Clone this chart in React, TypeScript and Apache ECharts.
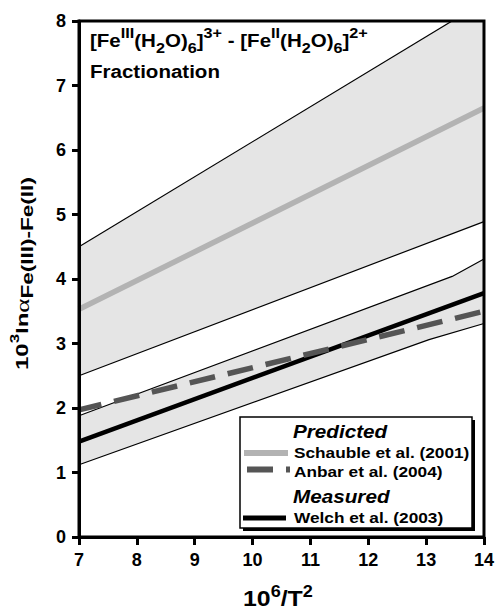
import React, { useEffect, useRef } from "react";
import * as echarts from "echarts";

const FONT = '"Liberation Sans", Arial, Helvetica, sans-serif';

// Axis extents (10^6/T^2 and 10^3 ln alpha)
const X_MIN = 7;
const X_MAX = 14;
const Y_MIN = 0;
const Y_MAX = 8;

// Central fractionation curves
const schauble2001: number[][] = [[7, 3.53], [14, 6.65]];
const anbar2004: number[][] = [[7, 1.97], [14, 3.5]];
const welch2003: number[][] = [[7, 1.48], [14, 3.78]];

// Uncertainty envelopes
const predictedUpper: number[][] = [[7, 4.5], [14, 8.3]];
const predictedLower: number[][] = [[7, 2.5], [14, 4.89]];
const measuredUpper: number[][] = [[7, 1.88], [13.45, 4.04], [14, 4.31]];
const measuredLower: number[][] = [[7, 1.12], [13.05, 3.06], [14, 3.31]];

const BAND_FILL = "#e5e5e5";
const SCHAUBLE_COLOR = "#b3b3b3";
const ANBAR_COLOR = "#555555";
const WELCH_COLOR = "#000000";
const ANBAR_DASH = [26, 13];

const bandSeries = (name: string, upper: number[][], lower: number[][]) => ({
  type: "custom",
  name,
  clip: true,
  silent: true,
  z: 1,
  data: [upper[0]],
  renderItem: (_params: any, api: any) => ({
    type: "polygon",
    shape: {
      points: upper.concat(lower.slice().reverse()).map((p) => api.coord(p)),
    },
    style: { fill: BAND_FILL },
  }),
});

const edgeSeries = (name: string, data: number[][]) => ({
  type: "line",
  name,
  data,
  symbol: "none",
  silent: true,
  z: 3,
  lineStyle: { color: "#000", width: 1.2 },
});

const curveSeries = (
  name: string,
  data: number[][],
  color: string,
  width: number,
  z: number,
  dash?: number[]
) => ({
  type: "line",
  name,
  data,
  symbol: "none",
  silent: true,
  z,
  lineStyle: {
    color,
    width,
    cap: "butt",
    type: dash ? dash : "solid",
    dashOffset: dash ? 3 : 0,
  },
});

const txt = (
  x: number,
  y: number,
  text: string,
  size: number,
  scaleX: number,
  extra: Record<string, any> = {},
  rotation = 0
) => ({
  type: "text",
  x,
  y,
  rotation,
  scaleX,
  z: 30,
  silent: true,
  style: {
    text,
    fill: "#000",
    fontSize: size,
    fontWeight: "bold",
    fontFamily: FONT,
    textAlign: "left",
    textVerticalAlign: "middle",
    align: "left",
    verticalAlign: "middle",
    ...extra,
  },
});

const richStyle = (size: number, lineHeight: number, va: string, extra: Record<string, any> = {}) => ({
  fontSize: size,
  fontWeight: "bold",
  fontFamily: FONT,
  fill: "#000",
  lineHeight,
  verticalAlign: va,
  ...extra,
});

export default function App() {
  const ref = useRef<HTMLDivElement>(null);

  useEffect(() => {
    if (!ref.current) return;
    const chart = echarts.init(ref.current, undefined, { renderer: "svg" });

    const axisCommon = {
      type: "value",
      z: 10,
      splitLine: { show: false },
      axisLine: { show: true, onZero: false, lineStyle: { color: "#000", width: 3 } },
    };

    const option: any = {
      animation: false,
      grid: {
        left: 79,
        right: 12,
        top: 21,
        bottom: 73,
        show: true,
        borderColor: "#000",
        borderWidth: 3,
        backgroundColor: "transparent",
        z: 10,
      },
      xAxis: {
        ...axisCommon,
        min: X_MIN,
        max: X_MAX,
        interval: 1,
        axisTick: { show: true, length: 8, lineStyle: { color: "#000", width: 3 } },
        axisLabel: { color: "#000", fontSize: 18, fontWeight: "bold", fontFamily: FONT, margin: 14 },
      },
      yAxis: {
        ...axisCommon,
        min: Y_MIN,
        max: Y_MAX,
        interval: 1,
        axisTick: { show: true, length: 7, lineStyle: { color: "#000", width: 3 } },
        axisLabel: { color: "#000", fontSize: 18, fontWeight: "bold", fontFamily: FONT, margin: 13 },
      },
      series: [
        bandSeries("Predicted range", predictedUpper, predictedLower),
        bandSeries("Measured range", measuredUpper, measuredLower),
        edgeSeries("Predicted upper", predictedUpper),
        edgeSeries("Predicted lower", predictedLower),
        edgeSeries("Measured upper", measuredUpper),
        edgeSeries("Measured lower", measuredLower),
        curveSeries("Schauble et al. (2001)", schauble2001, SCHAUBLE_COLOR, 5.5, 4),
        curveSeries("Welch et al. (2003)", welch2003, WELCH_COLOR, 4.5, 5),
        curveSeries("Anbar et al. (2004)", anbar2004, ANBAR_COLOR, 5.5, 6, ANBAR_DASH),
      ],
      graphic: {
        elements: [
          // in-plot title
          txt(
            90,
            40,
            "[Fe{sup|III}(H{sub|2}O){sub|6}]{sup|3+} - [Fe{sup|II}(H{sub|2}O){sub|6}]{sup|2+}",
            19,
            1.08,
            {
              lineHeight: 30,
              rich: {
                sup: richStyle(15, 21.6, "top"),
                sub: richStyle(15, 13.4, "bottom"),
              },
            }
          ),
          txt(90, 71.5, "Fractionation", 19, 1.08),
          // x-axis title
          txt(243, 598.5, "10{sup|6}/T{sup|2}", 22, 1.13, {
            lineHeight: 30,
            rich: { sup: richStyle(16, 10, "top") },
          }),
          // y-axis title (reads bottom to top)
          txt(
            22,
            370,
            "10{sup|3}ln{al|α}{sub|Fe(III)-Fe(II)}",
            17,
            1.41,
            {
              lineHeight: 26,
              rich: {
                sup: richStyle(12, 19, "top"),
                sub: richStyle(16, 8.4, "bottom"),
                al: richStyle(19, 26, "middle", {
                  fontWeight: "normal",
                  fontFamily: '"Liberation Serif", "DejaVu Serif", serif',
                }),
              },
            },
            Math.PI / 2
          ),
          // legend box with drop shadow
          {
            type: "rect",
            z: 20,
            silent: true,
            shape: { x: 243, y: 420, width: 232, height: 111 },
            style: { fill: "#000" },
          },
          {
            type: "rect",
            z: 21,
            silent: true,
            shape: { x: 240, y: 417, width: 232, height: 111 },
            style: { fill: "#fff", stroke: "#000", lineWidth: 1.5 },
          },
          txt(293, 432, "Predicted", 18, 1.15, { fontStyle: "italic" }),
          {
            type: "line",
            z: 25,
            silent: true,
            shape: { x1: 244, y1: 453, x2: 288, y2: 453 },
            style: { stroke: SCHAUBLE_COLOR, lineWidth: 6, lineCap: "butt" },
          },
          txt(294, 452.5, "Schauble et al. (2001)", 15, 1.15),
          {
            type: "line",
            z: 25,
            silent: true,
            shape: { x1: 247, y1: 469.5, x2: 290, y2: 469.5 },
            style: { stroke: ANBAR_COLOR, lineWidth: 6, lineCap: "butt", lineDash: ANBAR_DASH },
          },
          txt(294, 471, "Anbar et al. (2004)", 15, 1.15),
          txt(293, 496.5, "Measured", 18, 1.15, { fontStyle: "italic" }),
          {
            type: "line",
            z: 25,
            silent: true,
            shape: { x1: 243, y1: 518, x2: 286, y2: 518 },
            style: { stroke: WELCH_COLOR, lineWidth: 5, lineCap: "butt" },
          },
          txt(294, 517.5, "Welch et al. (2003)", 15, 1.15),
        ],
      },
    };

    chart.setOption(option);
    return () => chart.dispose();
  }, []);

  return (
    <div
      ref={ref}
      style={{ position: "fixed", left: 0, top: 0, width: 497, height: 610, background: "#fff" }}
    />
  );
}
